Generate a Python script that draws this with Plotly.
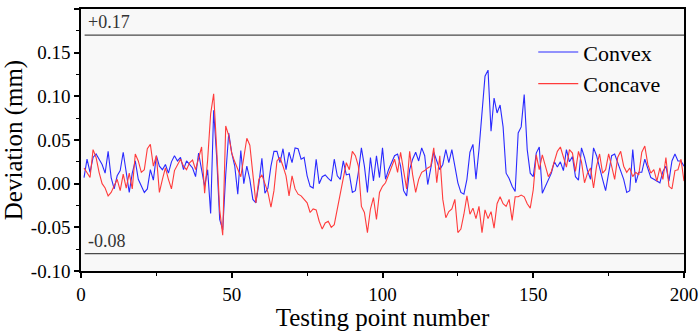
import plotly.graph_objects as go

# Testing point numbers
points = list(range(1, 201))

# Deviation (mm) of the convex surface at each testing point
convex = [
    0.007, 0.028, 0.013, 0.030, 0.034, 0.028, 0.022, 0.012, 0.037, 0.007,
    -0.006, 0.009, 0.015, 0.036, 0.012, -0.010, 0.012, 0.026, 0.005, -0.003,
    -0.010, -0.006, 0.016, 0.004, 0.032, 0.020, 0.016, 0.022, 0.012, 0.025,
    0.032, 0.026, 0.030, 0.016, 0.026, 0.022, 0.018, 0.008, 0.035, 0.016,
    -0.003, 0.016, -0.034, 0.084, 0.030, -0.041, -0.053, 0.010, 0.058, 0.035,
    0.020, -0.012, 0.038, 0.000, 0.020, 0.005, -0.018, -0.022, 0.000, 0.029,
    -0.011, -0.005, 0.020, 0.037, 0.037, 0.024, 0.040, 0.016, 0.036, 0.024,
    0.041, 0.040, 0.028, 0.030, 0.009, -0.003, -0.005, 0.028, 0.000, 0.008,
    0.010, 0.006, 0.003, 0.028, 0.009, 0.005, 0.026, 0.010, 0.011, -0.010,
    -0.008, 0.013, 0.041, 0.020, -0.010, 0.030, 0.003, 0.032, 0.007, 0.041,
    0.005, 0.016, 0.024, 0.032, 0.034, 0.020, -0.008, -0.014, 0.016, 0.028,
    0.036, 0.026, 0.041, 0.032, -0.001, 0.020, 0.036, 0.026, 0.016, 0.022,
    0.039, 0.024, 0.039, 0.020, 0.001, -0.010, -0.012, 0.005, 0.036, 0.045,
    0.005, 0.039, 0.085, 0.123, 0.130, 0.060, 0.098, 0.081, 0.090, 0.065,
    0.012, 0.006, -0.003, -0.009, 0.058, 0.065, 0.102, 0.039, 0.012, 0.008,
    0.035, 0.042, -0.011, -0.003, 0.004, 0.012, 0.025, 0.019, 0.025, 0.015,
    0.039, 0.025, 0.031, 0.008, 0.004, 0.041, 0.030, 0.015, 0.005, 0.041,
    0.032, 0.020, 0.005, -0.008, 0.013, 0.032, 0.034, 0.025, 0.016, 0.005,
    -0.010, -0.008, 0.039, 0.001, 0.013, 0.013, 0.028, 0.018, 0.007, 0.005,
    0.003, 0.001, 0.014, 0.020, 0.003, 0.026, 0.034, 0.026, 0.026, 0.020,
]

# Deviation (mm) of the concave surface at each testing point
concave = [
    0.018, 0.012, 0.007, 0.039, 0.030, 0.013, 0.000, -0.005, -0.014, -0.010,
    -0.002, 0.005, -0.008, 0.011, -0.005, 0.012, -0.006, 0.034, 0.026, 0.013,
    0.016, 0.040, 0.045, 0.020, 0.032, -0.010, 0.005, 0.018, 0.005, -0.006,
    0.015, 0.022, 0.028, 0.020, 0.016, 0.024, 0.027, 0.016, 0.030, 0.042,
    -0.011, 0.027, 0.080, 0.103, 0.040, -0.030, -0.059, 0.066, 0.055, 0.035,
    0.025, 0.016, 0.008, 0.030, 0.052, 0.044, 0.010, -0.022, 0.005, 0.010,
    0.000, -0.010, -0.027, -0.008, 0.026, 0.030, 0.020, 0.009, -0.014, 0.009,
    -0.006, -0.012, -0.014, -0.018, -0.022, -0.033, -0.029, -0.030, -0.043, -0.052,
    -0.045, -0.043, -0.050, -0.047, -0.029, -0.014, 0.005, 0.024, 0.016, 0.037,
    0.032, 0.020, -0.026, -0.033, -0.056, -0.029, -0.016, -0.041, -0.010, -0.003,
    0.001, 0.010, 0.020, 0.028, 0.013, 0.036, 0.015, -0.006, 0.037, 0.010,
    -0.010, 0.005, 0.013, 0.015, 0.018, 0.020, 0.041, 0.001, 0.032, -0.018,
    -0.039, -0.032, -0.029, -0.018, -0.056, -0.052, -0.035, -0.014, -0.035, -0.028,
    -0.040, -0.026, -0.056, -0.030, -0.040, -0.032, -0.051, -0.023, -0.015, -0.023,
    -0.026, -0.018, -0.042, -0.015, -0.015, -0.013, -0.015, -0.023, -0.028, -0.007,
    0.033, 0.016, 0.033, 0.020, 0.008, 0.014, 0.025, 0.037, 0.042, 0.030,
    0.019, 0.039, 0.035, 0.014, 0.037, 0.025, 0.001, 0.012, 0.018, -0.005,
    0.020, 0.034, 0.012, 0.016, 0.034, 0.020, 0.005, 0.030, 0.037, 0.020,
    0.013, 0.018, 0.008, 0.013, 0.010, 0.036, 0.043, 0.022, 0.012, 0.016,
    0.003, 0.018, 0.005, 0.030, -0.003, -0.006, 0.015, 0.016, 0.028, 0.003,
]

# Tolerance limits
limits = [0.17, -0.08]
limit_labels = ["+0.17", "-0.08"]

FONT = "Times New Roman"

fig = go.Figure()
fig.add_trace(go.Scatter(x=points, y=convex, mode="lines", name="Convex",
                         line=dict(color="#2a2aff", width=1.1)))
fig.add_trace(go.Scatter(x=points, y=concave, mode="lines", name="Concave",
                         line=dict(color="#ff3b3b", width=1.1)))

for val, lab in zip(limits, limit_labels):
    fig.add_shape(type="line", xref="x", yref="y", x0=1.2, x1=200, y0=val, y1=val,
                  line=dict(color="#4a4a4a", width=1.2))
    fig.add_annotation(x=1.5, y=val, xref="x", yref="y", text=lab, showarrow=False,
                       xanchor="left", yanchor="bottom", yshift=1,
                       font=dict(family=FONT, size=18, color="#333333"))

axis_common = dict(
    showgrid=False, zeroline=False, showline=True, linecolor="black", linewidth=1.5,
    mirror=True, ticks="outside", ticklen=5, tickwidth=1.5, tickcolor="black",
    tickfont=dict(family=FONT, size=19, color="black"),
)

fig.update_xaxes(range=[0, 200], tickmode="array", tickvals=[0, 50, 100, 150, 200],
                 minor=dict(ticks="outside", ticklen=3, tickwidth=1.2,
                            tickcolor="black", dtick=25, tick0=0),
                 title=dict(text="Testing point number", standoff=4,
                            font=dict(family=FONT, size=25, color="black")),
                 **axis_common)
fig.update_yaxes(range=[-0.1, 0.2], tickmode="array",
                 tickvals=[-0.10, -0.05, 0.0, 0.05, 0.10, 0.15, 0.20],
                 ticktext=["-0.10", "-0.05", "0.00", "0.05", "0.10", "0.15", "0.20"],
                 minor=dict(ticks="outside", ticklen=3, tickwidth=1.2,
                            tickcolor="black", dtick=0.025, tick0=0),
                 title=dict(text="Deviation (mm)", standoff=6,
                            font=dict(family=FONT, size=25, color="black")),
                 **axis_common)

fig.update_layout(
    width=700, height=331,
    margin=dict(l=81, r=16, t=9, b=60, autoexpand=False),
    paper_bgcolor="white", plot_bgcolor="#f8f8f8",
    font=dict(family=FONT, color="black"),
    showlegend=True,
    legend=dict(x=0.75, y=0.915, xanchor="left", yanchor="top",
                bgcolor="rgba(0,0,0,0)", borderwidth=0,
                font=dict(family=FONT, size=22, color="black"),
                tracegroupgap=0, itemwidth=40),
)

fig.write_html("out.html")
